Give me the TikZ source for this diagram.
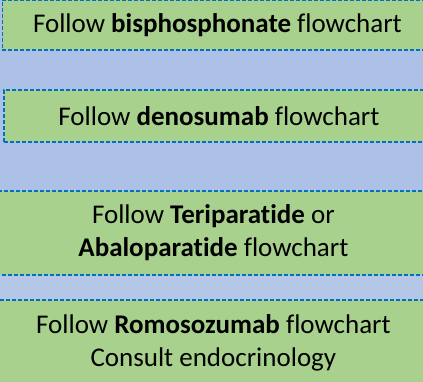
\documentclass[tikz,border=0pt]{standalone}
\usepackage{fontspec}
\setmainfont[RawFeature=-liga]{Carlito}
\definecolor{boxgreen}{HTML}{A9D18E}
\definecolor{bandblue}{HTML}{ADC0E6}
\definecolor{bandlight}{HTML}{B4C7E7}
\definecolor{edgeblue}{HTML}{0070C0}
\begin{document}
\begin{tikzpicture}[x=1pt, y=-1pt,
    stepbox/.style={draw=edgeblue, fill=boxgreen, line width=1.8pt, dash pattern=on 4pt off 2pt,
      align=center, anchor=north west, inner sep=0pt, font=\fontsize{27}{32.5}\selectfont}]
    \useasboundingbox (0, 0) rectangle (423, 382);
    \clip (0, 0) rectangle (423, 382);
    % background bands
    \fill[bandblue] (0, 0) rectangle (423, 274);
    \fill[bandlight] (0, 274) rectangle (423, 382);
    % treatment boxes
    \node[stepbox, minimum width=430pt, minimum height=50pt] (bisphos) at (1.5, -1) {Follow \textbf{bisphosphonate} flowchart};
    \node[stepbox, minimum width=430pt, minimum height=52pt] (denosumab) at (3, 89) {Follow \textbf{denosumab} flowchart};
    \node[stepbox, minimum width=435pt, minimum height=84pt] (teripar) at (-5, 190) {Follow \textbf{Teriparatide} or\\\textbf{Abaloparatide} flowchart};
    \node[stepbox, minimum width=435pt, minimum height=86pt] (romoso) at (-5, 299) {Follow \textbf{Romosozumab} flowchart\\Consult endocrinology};
  \end{tikzpicture}
\end{document}
